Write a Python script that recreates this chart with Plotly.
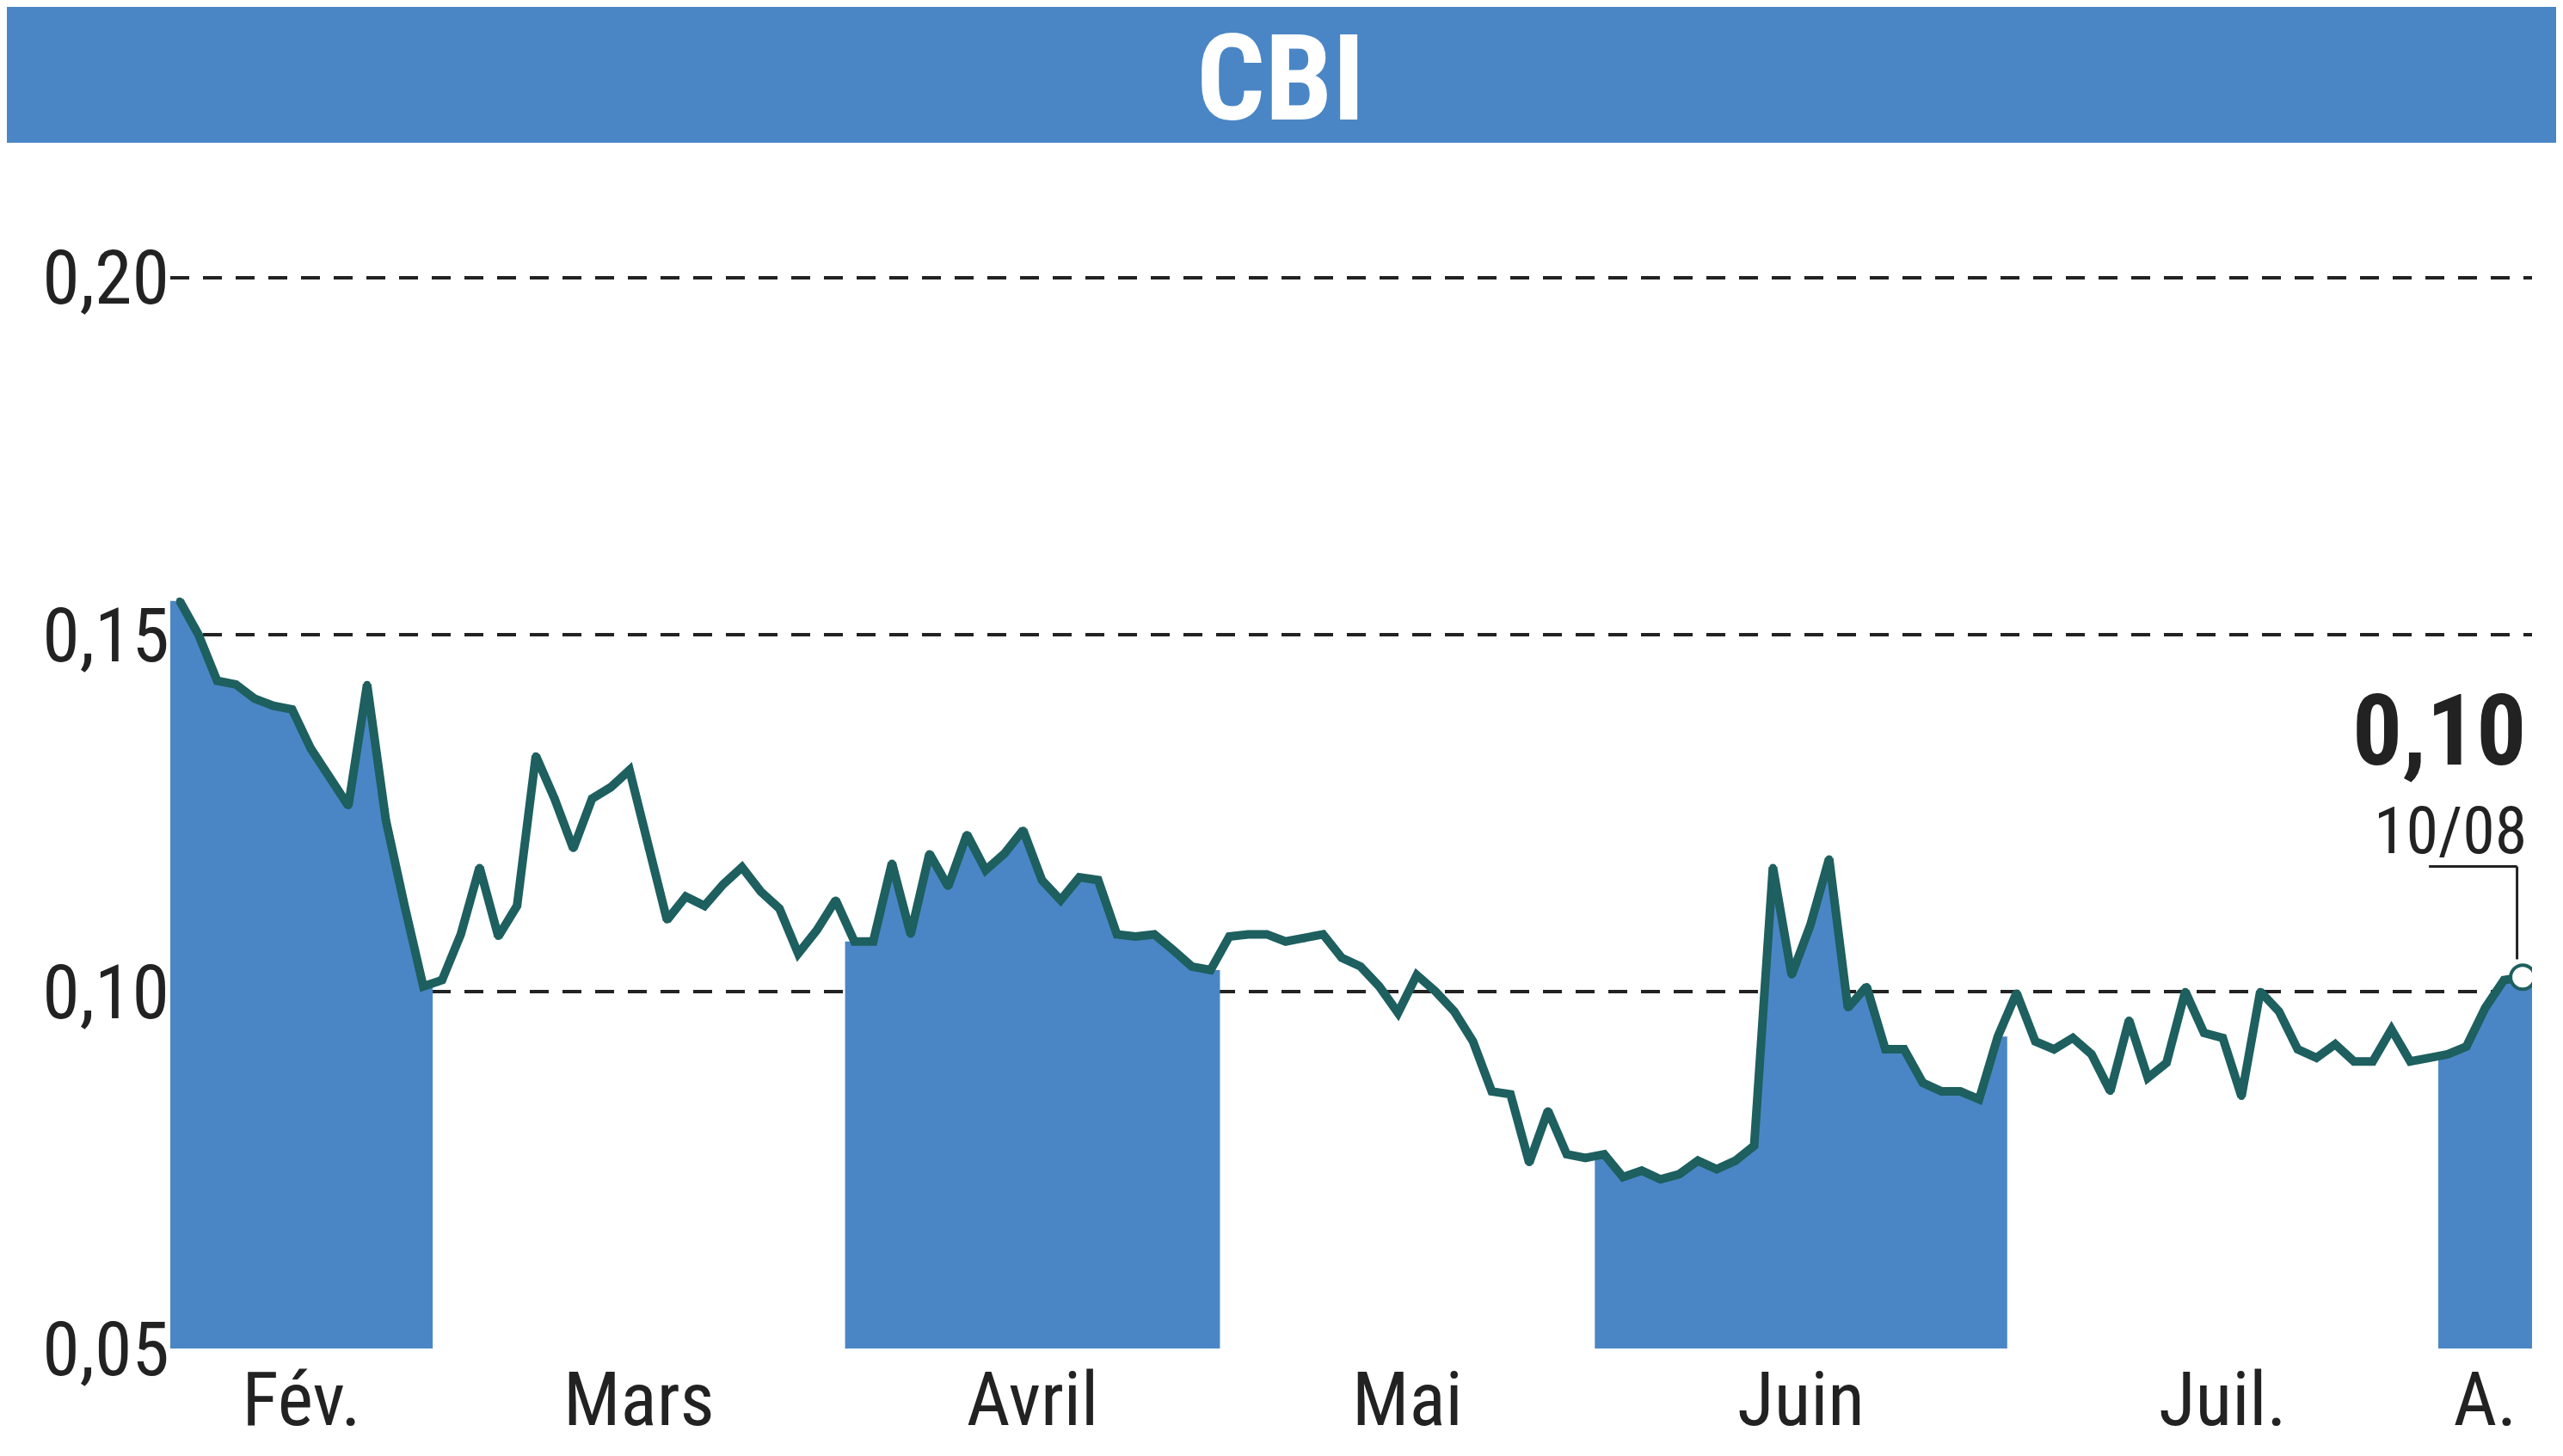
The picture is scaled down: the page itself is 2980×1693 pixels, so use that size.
import plotly.graph_objects as go

month_labels = ["Fév.", "Mars", "Avril", "Mai", "Juin", "Juil.", "A."]
month_counts = [14, 22, 20, 20, 22, 23, 5]
shaded_months = [0, 2, 4, 6]
prices = [
    0.1547, 0.150, 0.1435, 0.143, 0.141, 0.140, 0.1395, 0.134, 0.130, 0.126, 0.143, 0.124, 0.112, 0.1007,
    0.1016, 0.108, 0.1174, 0.1077, 0.112, 0.133, 0.127, 0.120, 0.127, 0.1286, 0.131, 0.120, 0.110, 0.1133,
    0.112, 0.115, 0.1174, 0.114, 0.1116, 0.1053, 0.1086, 0.1128,
    0.107, 0.107, 0.118, 0.108, 0.1193, 0.1147, 0.122, 0.117, 0.1193, 0.1226, 0.1156, 0.1128, 0.116, 0.1156,
    0.108, 0.1077, 0.108, 0.1058, 0.1035, 0.103,
    0.1077, 0.108, 0.108, 0.107, 0.1074, 0.108, 0.1047, 0.1035, 0.1007, 0.097, 0.1023, 0.100, 0.0972, 0.093,
    0.086, 0.0856, 0.076, 0.0833, 0.0772, 0.0767,
    0.0772, 0.074, 0.0749, 0.0737, 0.0744, 0.0763, 0.0751, 0.0763, 0.0784, 0.1174, 0.1023, 0.1093, 0.1186,
    0.0977, 0.1007, 0.0919, 0.0919, 0.0872, 0.086, 0.086, 0.0849, 0.0937,
    0.0998, 0.093, 0.0919, 0.0935, 0.0912, 0.086, 0.096, 0.0879, 0.090, 0.100, 0.0942, 0.0935, 0.0853, 0.100,
    0.0972, 0.0919, 0.0907, 0.0926, 0.0902, 0.0902, 0.0947, 0.0902, 0.0907,
    0.0912, 0.0923, 0.0977, 0.1016, 0.102,
]
yticks = [0.05, 0.10, 0.15, 0.20]
ytick_text = ["0,05", "0,10", "0,15", "0,20"]
last_label = "0,10"
last_date = "10/08"

x = list(range(len(prices)))
starts = []
s = 0
for c in month_counts:
    starts.append(s)
    s += c

BLUE = "#4a86c5"
LINE = "#1e5f5f"
fig = go.Figure()
for m in shaded_months:
    a = starts[m]
    b = a + month_counts[m]
    xs = [a - 0.5] + x[a:b] + [b - 0.5]
    ys = [prices[a]] + prices[a:b] + [prices[b - 1]]
    fig.add_trace(go.Scatter(x=xs, y=ys, fill="tozeroy", mode="none",
                             fillcolor=BLUE, hoverinfo="skip", showlegend=False))
fig.add_trace(go.Scatter(x=x, y=prices, mode="lines+markers",
                         line=dict(color=LINE, width=10), marker=dict(size=8, color=LINE),
                         showlegend=False))
fig.add_trace(go.Scatter(x=[x[-1]], y=[prices[-1]], mode="markers",
                         marker=dict(size=28, color="white", line=dict(color=LINE, width=4)),
                         showlegend=False))

tickpos = [starts[i] + (month_counts[i] - 1) / 2 for i in range(len(month_counts))]
fig.update_layout(
    width=2980, height=1693, plot_bgcolor="white", paper_bgcolor="white",
    margin=dict(l=190, r=44, t=190, b=133), separators=",.",
    font=dict(family="Liberation Sans Narrow, Roboto Condensed, Roboto", color="#222"),
    xaxis=dict(range=[-0.5, len(prices) - 0.5], tickvals=tickpos, ticktext=month_labels,
               showgrid=False, zeroline=False, showline=False, ticks="",
               tickfont=dict(size=88)),
    yaxis=dict(range=[0.05, 0.215], tickvals=yticks, ticktext=ytick_text,
               showgrid=True, gridcolor="#222", griddash="22px,16px", gridwidth=4,
               zeroline=False, ticks="", tickfont=dict(size=88)),
    shapes=[dict(type="rect", xref="paper", yref="paper", x0=-0.2, x1=1.05,
                 y0=1.0 + 32 / 1370, y1=1.2, fillcolor=BLUE, line=dict(width=0), layer="below")],
    annotations=[
        dict(text="<b>CBI</b>", xref="paper", yref="paper", x=0.47, y=1.078, showarrow=False,
             font=dict(size=140, color="white"), yanchor="middle"),
        dict(text="<b>" + last_label + "</b>", x=x[-1] + 0.3, y=0.1365, xanchor="right", showarrow=False,
             font=dict(size=115, color="#222")),
        dict(text=last_date, x=x[-1] + 0.3, y=0.1225, xanchor="right", showarrow=False,
             font=dict(size=76, color="#222")),
    ],
)
fig.add_shape(type="line", x0=x[-1] - 5, x1=x[-1] - 0.3, y0=0.1175, y1=0.1175, line=dict(color="#222", width=3))
fig.add_shape(type="line", x0=x[-1] - 0.3, x1=x[-1] - 0.3, y0=0.1175, y1=prices[-1] + 0.0025, line=dict(color="#222", width=3))
fig.write_html("out.html")
